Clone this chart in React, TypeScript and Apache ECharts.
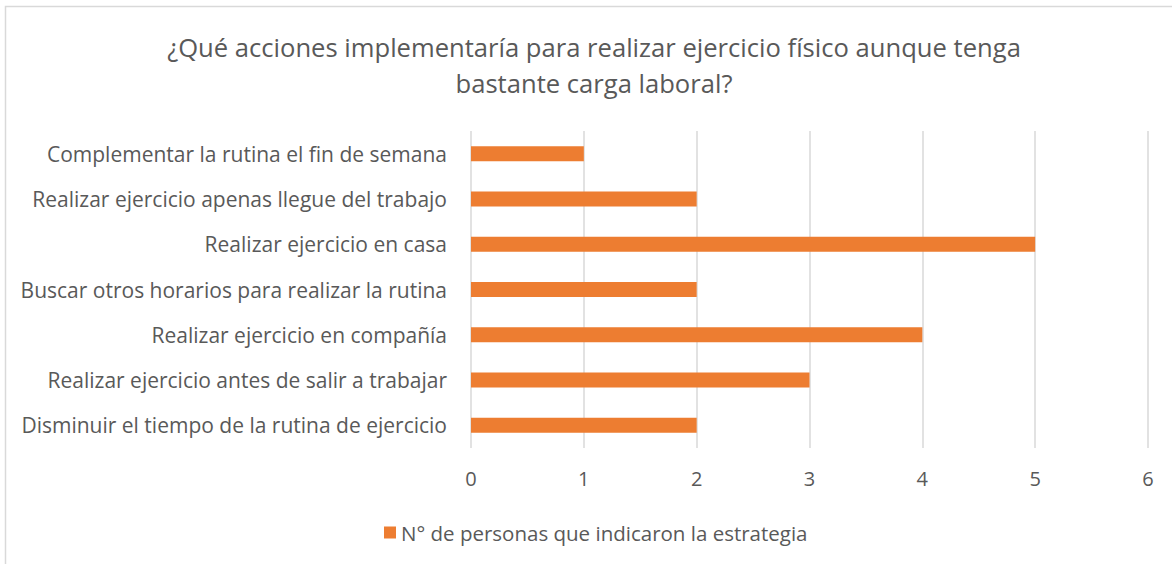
import React, { useEffect, useRef } from "react";
import * as echarts from "echarts";

const titleText = "¿Qué acciones implementaría para realizar ejercicio físico aunque tenga\nbastante carga laboral?";
const categories = [
  "Disminuir el tiempo de la rutina de ejercicio",
  "Realizar ejercicio antes de salir a trabajar",
  "Realizar ejercicio en compañía",
  "Buscar otros horarios para realizar la rutina",
  "Realizar ejercicio en casa",
  "Realizar ejercicio apenas llegue del trabajo",
  "Complementar la rutina el fin de semana",
];
const values = [2, 3, 4, 2, 5, 2, 1];
const seriesName = "N° de personas que indicaron la estrategia";

const FONT = "'Open Sans', 'Liberation Sans', sans-serif";

export default function App() {
  const ref = useRef<HTMLDivElement>(null);
  useEffect(() => {
    if (!ref.current) return;
    const chart = echarts.init(ref.current, undefined, { renderer: "svg" });
    chart.setOption({
      animation: false,
      textStyle: { fontFamily: FONT },
      legend: {
        top: 517,
        left: 379,
        itemWidth: 12,
        itemHeight: 12,
        itemGap: 6,
        icon: "rect",
        textStyle: { fontFamily: FONT, fontSize: 20.5, color: "#595959" },
      },
      grid: { left: 471, right: 24, top: 131, bottom: 116, containLabel: false },
      xAxis: {
        type: "value",
        min: 0,
        max: 6,
        interval: 1,
        axisLine: { show: false },
        axisTick: { show: false },
        axisLabel: { fontFamily: FONT, fontSize: 20, color: "#595959", margin: 20 },
        splitLine: { show: true, lineStyle: { color: "#d9d9d9", width: 1.5 } },
      },
      yAxis: {
        type: "category",
        data: categories,
        axisLine: { show: false },
        axisTick: { show: false },
        axisLabel: { fontFamily: FONT, fontSize: 21, color: "#595959", margin: 24 },
      },
      series: [
        {
          name: seriesName,
          type: "bar",
          data: values,
          barWidth: 15,
          itemStyle: { color: "#ed7d31" },
        },
      ],
      graphic: [
        {
          type: "rect",
          shape: { x: 5.5, y: 6.5, width: 1300, height: 700 },
          style: { fill: "none", stroke: "#d9d9d9", lineWidth: 1.5 },
          silent: true,
        },
        {
          type: "text",
          x: 594,
          y: 29,
          style: {
            text: titleText,
            textAlign: "center",
            textVerticalAlign: "top",
            fontFamily: FONT,
            fontSize: 25.6,
            lineHeight: 36,
            fill: "#595959",
          },
          silent: true,
        },
      ],
    });
    return () => chart.dispose();
  }, []);
  return (
    <div
      ref={ref}
      style={{ position: "absolute", left: 0, top: 0, width: 1172, height: 564, background: "#fff" }}
    />
  );
}
